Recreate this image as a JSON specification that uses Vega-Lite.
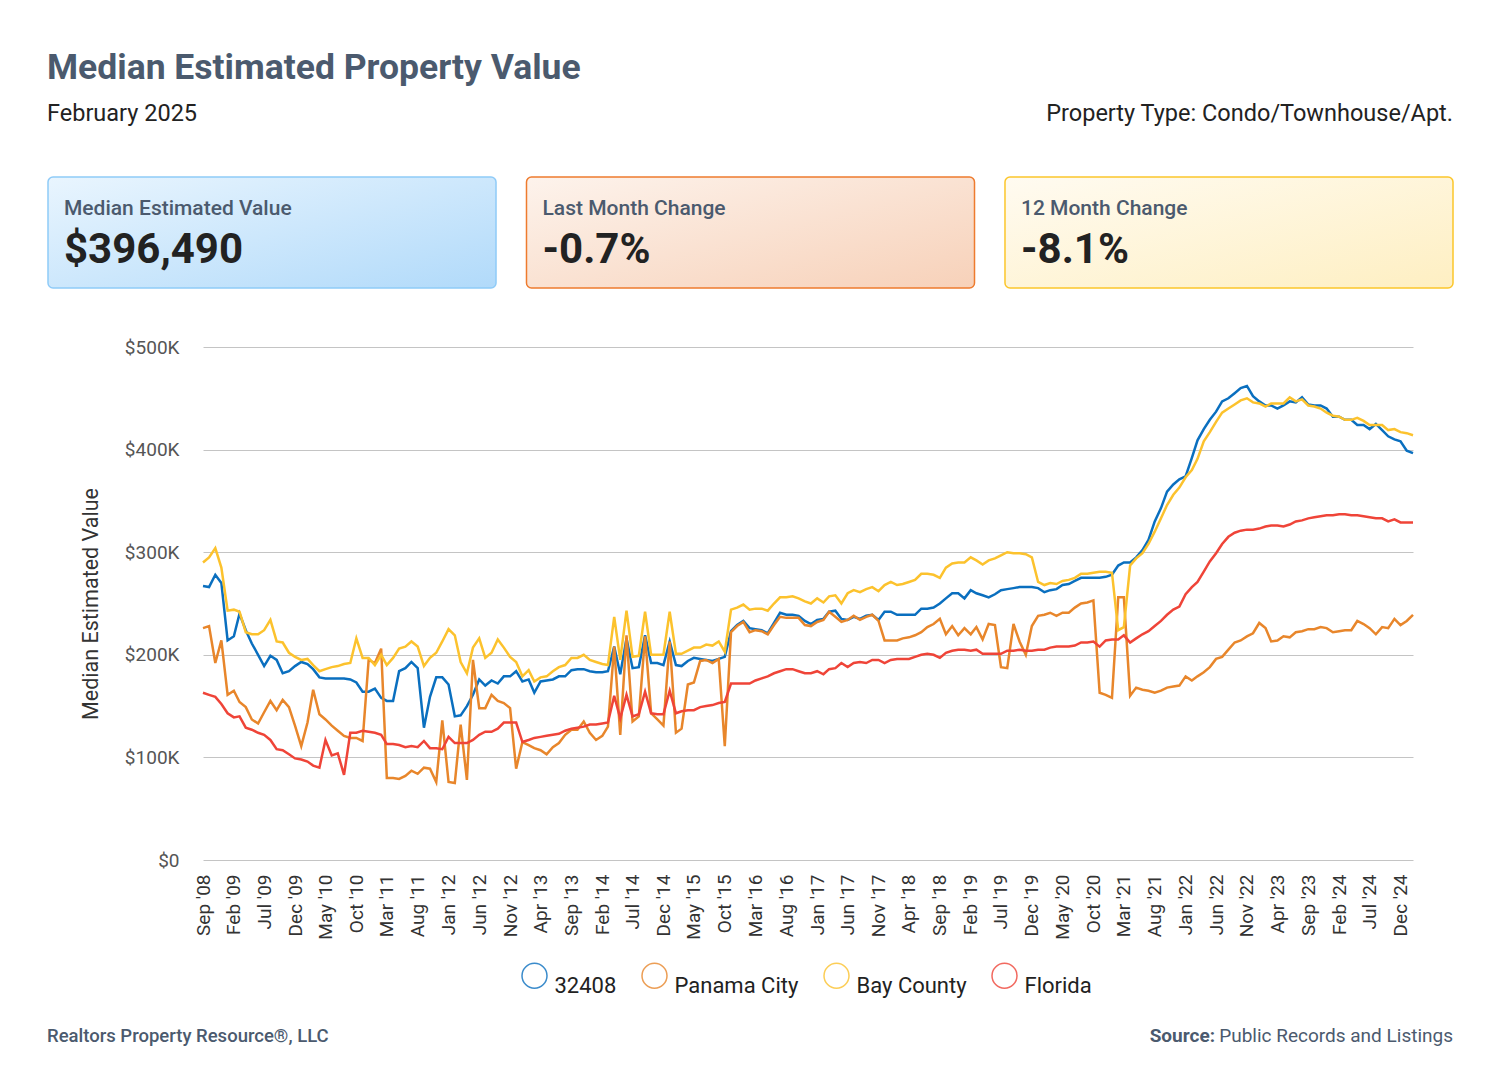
{
"$schema": "https://vega.github.io/schema/vega-lite/v6.json",
"background": "white",
"padding": {"left": 47, "top": 0, "right": 0, "bottom": 0},
"bounds": "flush",
"spacing": 59,
"config": {"view": {"stroke": null}, "font": "Roboto"},
"datasets": {"series": [
{"m":"2008-09","32408":267000,"Panama City":226000,"Bay County":290000,"Florida":163000},
{"m":"2008-10","32408":266000,"Panama City":228000,"Bay County":295000,"Florida":161000},
{"m":"2008-11","32408":278000,"Panama City":192000,"Bay County":304000,"Florida":159000},
{"m":"2008-12","32408":270000,"Panama City":214000,"Bay County":285000,"Florida":152000},
{"m":"2009-01","32408":214000,"Panama City":161000,"Bay County":243000,"Florida":143000},
{"m":"2009-02","32408":218000,"Panama City":165000,"Bay County":244000,"Florida":139000},
{"m":"2009-03","32408":240000,"Panama City":154000,"Bay County":242000,"Florida":140000},
{"m":"2009-04","32408":224000,"Panama City":149000,"Bay County":222000,"Florida":129000},
{"m":"2009-05","32408":211000,"Panama City":137000,"Bay County":220000,"Florida":127000},
{"m":"2009-06","32408":200000,"Panama City":133000,"Bay County":220000,"Florida":124000},
{"m":"2009-07","32408":189000,"Panama City":144000,"Bay County":224000,"Florida":122000},
{"m":"2009-08","32408":199000,"Panama City":155000,"Bay County":234000,"Florida":117000},
{"m":"2009-09","32408":195000,"Panama City":146000,"Bay County":213000,"Florida":108000},
{"m":"2009-10","32408":182000,"Panama City":156000,"Bay County":212000,"Florida":107000},
{"m":"2009-11","32408":184000,"Panama City":149000,"Bay County":202000,"Florida":103000},
{"m":"2009-12","32408":189000,"Panama City":131000,"Bay County":198000,"Florida":99000},
{"m":"2010-01","32408":193000,"Panama City":111000,"Bay County":195000,"Florida":98000},
{"m":"2010-02","32408":191000,"Panama City":134000,"Bay County":196000,"Florida":96000},
{"m":"2010-03","32408":186000,"Panama City":166000,"Bay County":190000,"Florida":92000},
{"m":"2010-04","32408":178000,"Panama City":142000,"Bay County":184000,"Florida":90000},
{"m":"2010-05","32408":177000,"Panama City":137000,"Bay County":186000,"Florida":117000},
{"m":"2010-06","32408":177000,"Panama City":131000,"Bay County":188000,"Florida":102000},
{"m":"2010-07","32408":177000,"Panama City":126000,"Bay County":189000,"Florida":104000},
{"m":"2010-08","32408":177000,"Panama City":121000,"Bay County":191000,"Florida":83000},
{"m":"2010-09","32408":176000,"Panama City":119000,"Bay County":192000,"Florida":124000},
{"m":"2010-10","32408":173000,"Panama City":119000,"Bay County":216000,"Florida":124000},
{"m":"2010-11","32408":164000,"Panama City":116000,"Bay County":197000,"Florida":126000},
{"m":"2010-12","32408":164000,"Panama City":195000,"Bay County":197000,"Florida":125000},
{"m":"2011-01","32408":167000,"Panama City":192000,"Bay County":190000,"Florida":124000},
{"m":"2011-02","32408":158000,"Panama City":206000,"Bay County":200000,"Florida":122000},
{"m":"2011-03","32408":155000,"Panama City":80000,"Bay County":190000,"Florida":113000},
{"m":"2011-04","32408":155000,"Panama City":80000,"Bay County":197000,"Florida":113000},
{"m":"2011-05","32408":184000,"Panama City":79000,"Bay County":206000,"Florida":112000},
{"m":"2011-06","32408":187000,"Panama City":82000,"Bay County":208000,"Florida":110000},
{"m":"2011-07","32408":193000,"Panama City":87000,"Bay County":213000,"Florida":111000},
{"m":"2011-08","32408":187000,"Panama City":84000,"Bay County":208000,"Florida":110000},
{"m":"2011-09","32408":129000,"Panama City":90000,"Bay County":189000,"Florida":116000},
{"m":"2011-10","32408":159000,"Panama City":89000,"Bay County":197000,"Florida":109000},
{"m":"2011-11","32408":178000,"Panama City":76000,"Bay County":202000,"Florida":109000},
{"m":"2011-12","32408":178000,"Panama City":136000,"Bay County":213000,"Florida":108000},
{"m":"2012-01","32408":171000,"Panama City":76000,"Bay County":225000,"Florida":120000},
{"m":"2012-02","32408":140000,"Panama City":75000,"Bay County":219000,"Florida":114000},
{"m":"2012-03","32408":141000,"Panama City":132000,"Bay County":193000,"Florida":114000},
{"m":"2012-04","32408":150000,"Panama City":78000,"Bay County":182000,"Florida":114000},
{"m":"2012-05","32408":161000,"Panama City":195000,"Bay County":207000,"Florida":117000},
{"m":"2012-06","32408":176000,"Panama City":148000,"Bay County":216000,"Florida":122000},
{"m":"2012-07","32408":170000,"Panama City":148000,"Bay County":197000,"Florida":125000},
{"m":"2012-08","32408":175000,"Panama City":161000,"Bay County":202000,"Florida":125000},
{"m":"2012-09","32408":172000,"Panama City":155000,"Bay County":215000,"Florida":128000},
{"m":"2012-10","32408":179000,"Panama City":153000,"Bay County":207000,"Florida":134000},
{"m":"2012-11","32408":179000,"Panama City":148000,"Bay County":198000,"Florida":134000},
{"m":"2012-12","32408":184000,"Panama City":89000,"Bay County":193000,"Florida":134000},
{"m":"2013-01","32408":174000,"Panama City":115000,"Bay County":179000,"Florida":115000},
{"m":"2013-02","32408":176000,"Panama City":112000,"Bay County":185000,"Florida":117000},
{"m":"2013-03","32408":163000,"Panama City":109000,"Bay County":174000,"Florida":119000},
{"m":"2013-04","32408":174000,"Panama City":107000,"Bay County":178000,"Florida":120000},
{"m":"2013-05","32408":175000,"Panama City":103000,"Bay County":179000,"Florida":121000},
{"m":"2013-06","32408":176000,"Panama City":110000,"Bay County":184000,"Florida":122000},
{"m":"2013-07","32408":179000,"Panama City":114000,"Bay County":188000,"Florida":123000},
{"m":"2013-08","32408":179000,"Panama City":122000,"Bay County":190000,"Florida":126000},
{"m":"2013-09","32408":185000,"Panama City":127000,"Bay County":197000,"Florida":128000},
{"m":"2013-10","32408":186000,"Panama City":127000,"Bay County":197000,"Florida":129000},
{"m":"2013-11","32408":186000,"Panama City":135000,"Bay County":200000,"Florida":130000},
{"m":"2013-12","32408":184000,"Panama City":124000,"Bay County":195000,"Florida":132000},
{"m":"2014-01","32408":183000,"Panama City":117000,"Bay County":193000,"Florida":132000},
{"m":"2014-02","32408":183000,"Panama City":121000,"Bay County":191000,"Florida":133000},
{"m":"2014-03","32408":184000,"Panama City":130000,"Bay County":190000,"Florida":134000},
{"m":"2014-04","32408":208000,"Panama City":208000,"Bay County":237000,"Florida":160000},
{"m":"2014-05","32408":181000,"Panama City":122000,"Bay County":195000,"Florida":138000},
{"m":"2014-06","32408":216000,"Panama City":219000,"Bay County":243000,"Florida":161000},
{"m":"2014-07","32408":187000,"Panama City":135000,"Bay County":198000,"Florida":140000},
{"m":"2014-08","32408":188000,"Panama City":140000,"Bay County":199000,"Florida":142000},
{"m":"2014-09","32408":219000,"Panama City":218000,"Bay County":242000,"Florida":164000},
{"m":"2014-10","32408":192000,"Panama City":143000,"Bay County":200000,"Florida":143000},
{"m":"2014-11","32408":192000,"Panama City":137000,"Bay County":200000,"Florida":142000},
{"m":"2014-12","32408":190000,"Panama City":131000,"Bay County":200000,"Florida":142000},
{"m":"2015-01","32408":213000,"Panama City":213000,"Bay County":242000,"Florida":165000},
{"m":"2015-02","32408":190000,"Panama City":124000,"Bay County":201000,"Florida":143000},
{"m":"2015-03","32408":189000,"Panama City":128000,"Bay County":201000,"Florida":145000},
{"m":"2015-04","32408":194000,"Panama City":171000,"Bay County":204000,"Florida":146000},
{"m":"2015-05","32408":197000,"Panama City":173000,"Bay County":207000,"Florida":146000},
{"m":"2015-06","32408":196000,"Panama City":194000,"Bay County":207000,"Florida":149000},
{"m":"2015-07","32408":195000,"Panama City":195000,"Bay County":210000,"Florida":150000},
{"m":"2015-08","32408":194000,"Panama City":192000,"Bay County":209000,"Florida":151000},
{"m":"2015-09","32408":196000,"Panama City":196000,"Bay County":213000,"Florida":153000},
{"m":"2015-10","32408":198000,"Panama City":111000,"Bay County":203000,"Florida":154000},
{"m":"2015-11","32408":223000,"Panama City":222000,"Bay County":244000,"Florida":172000},
{"m":"2015-12","32408":229000,"Panama City":228000,"Bay County":246000,"Florida":172000},
{"m":"2016-01","32408":233000,"Panama City":232000,"Bay County":249000,"Florida":172000},
{"m":"2016-02","32408":226000,"Panama City":222000,"Bay County":244000,"Florida":172000},
{"m":"2016-03","32408":225000,"Panama City":224000,"Bay County":245000,"Florida":175000},
{"m":"2016-04","32408":224000,"Panama City":223000,"Bay County":245000,"Florida":177000},
{"m":"2016-05","32408":221000,"Panama City":220000,"Bay County":243000,"Florida":179000},
{"m":"2016-06","32408":231000,"Panama City":229000,"Bay County":250000,"Florida":182000},
{"m":"2016-07","32408":241000,"Panama City":237000,"Bay County":256000,"Florida":184000},
{"m":"2016-08","32408":239000,"Panama City":236000,"Bay County":256000,"Florida":186000},
{"m":"2016-09","32408":239000,"Panama City":236000,"Bay County":257000,"Florida":186000},
{"m":"2016-10","32408":238000,"Panama City":236000,"Bay County":255000,"Florida":184000},
{"m":"2016-11","32408":233000,"Panama City":229000,"Bay County":252000,"Florida":182000},
{"m":"2016-12","32408":230000,"Panama City":228000,"Bay County":250000,"Florida":182000},
{"m":"2017-01","32408":234000,"Panama City":232000,"Bay County":255000,"Florida":184000},
{"m":"2017-02","32408":235000,"Panama City":234000,"Bay County":251000,"Florida":181000},
{"m":"2017-03","32408":242000,"Panama City":242000,"Bay County":257000,"Florida":186000},
{"m":"2017-04","32408":243000,"Panama City":237000,"Bay County":258000,"Florida":187000},
{"m":"2017-05","32408":235000,"Panama City":232000,"Bay County":250000,"Florida":192000},
{"m":"2017-06","32408":234000,"Panama City":234000,"Bay County":260000,"Florida":188000},
{"m":"2017-07","32408":237000,"Panama City":238000,"Bay County":263000,"Florida":192000},
{"m":"2017-08","32408":235000,"Panama City":234000,"Bay County":261000,"Florida":193000},
{"m":"2017-09","32408":238000,"Panama City":237000,"Bay County":264000,"Florida":192000},
{"m":"2017-10","32408":239000,"Panama City":239000,"Bay County":266000,"Florida":195000},
{"m":"2017-11","32408":234000,"Panama City":233000,"Bay County":262000,"Florida":195000},
{"m":"2017-12","32408":242000,"Panama City":214000,"Bay County":268000,"Florida":192000},
{"m":"2018-01","32408":242000,"Panama City":214000,"Bay County":271000,"Florida":195000},
{"m":"2018-02","32408":239000,"Panama City":214000,"Bay County":268000,"Florida":196000},
{"m":"2018-03","32408":239000,"Panama City":216000,"Bay County":269000,"Florida":196000},
{"m":"2018-04","32408":239000,"Panama City":217000,"Bay County":271000,"Florida":196000},
{"m":"2018-05","32408":239000,"Panama City":219000,"Bay County":273000,"Florida":198000},
{"m":"2018-06","32408":245000,"Panama City":222000,"Bay County":279000,"Florida":200000},
{"m":"2018-07","32408":245000,"Panama City":227000,"Bay County":279000,"Florida":201000},
{"m":"2018-08","32408":246000,"Panama City":230000,"Bay County":278000,"Florida":200000},
{"m":"2018-09","32408":250000,"Panama City":235000,"Bay County":275000,"Florida":197000},
{"m":"2018-10","32408":255000,"Panama City":220000,"Bay County":285000,"Florida":202000},
{"m":"2018-11","32408":260000,"Panama City":228000,"Bay County":289000,"Florida":204000},
{"m":"2018-12","32408":260000,"Panama City":219000,"Bay County":290000,"Florida":205000},
{"m":"2019-01","32408":255000,"Panama City":226000,"Bay County":290000,"Florida":205000},
{"m":"2019-02","32408":263000,"Panama City":220000,"Bay County":295000,"Florida":204000},
{"m":"2019-03","32408":260000,"Panama City":227000,"Bay County":292000,"Florida":205000},
{"m":"2019-04","32408":258000,"Panama City":215000,"Bay County":288000,"Florida":201000},
{"m":"2019-05","32408":256000,"Panama City":230000,"Bay County":292000,"Florida":201000},
{"m":"2019-06","32408":259000,"Panama City":229000,"Bay County":294000,"Florida":201000},
{"m":"2019-07","32408":263000,"Panama City":188000,"Bay County":297000,"Florida":201000},
{"m":"2019-08","32408":264000,"Panama City":187000,"Bay County":300000,"Florida":204000},
{"m":"2019-09","32408":265000,"Panama City":230000,"Bay County":299000,"Florida":204000},
{"m":"2019-10","32408":266000,"Panama City":213000,"Bay County":299000,"Florida":205000},
{"m":"2019-11","32408":266000,"Panama City":200000,"Bay County":298000,"Florida":204000},
{"m":"2019-12","32408":266000,"Panama City":228000,"Bay County":295000,"Florida":204000},
{"m":"2020-01","32408":265000,"Panama City":238000,"Bay County":271000,"Florida":205000},
{"m":"2020-02","32408":261000,"Panama City":239000,"Bay County":268000,"Florida":205000},
{"m":"2020-03","32408":263000,"Panama City":241000,"Bay County":270000,"Florida":207000},
{"m":"2020-04","32408":264000,"Panama City":238000,"Bay County":269000,"Florida":208000},
{"m":"2020-05","32408":268000,"Panama City":241000,"Bay County":272000,"Florida":208000},
{"m":"2020-06","32408":269000,"Panama City":241000,"Bay County":273000,"Florida":208000},
{"m":"2020-07","32408":272000,"Panama City":246000,"Bay County":275000,"Florida":209000},
{"m":"2020-08","32408":275000,"Panama City":250000,"Bay County":279000,"Florida":212000},
{"m":"2020-09","32408":275000,"Panama City":251000,"Bay County":279000,"Florida":212000},
{"m":"2020-10","32408":275000,"Panama City":253000,"Bay County":280000,"Florida":213000},
{"m":"2020-11","32408":275000,"Panama City":163000,"Bay County":281000,"Florida":208000},
{"m":"2020-12","32408":276000,"Panama City":161000,"Bay County":281000,"Florida":214000},
{"m":"2021-01","32408":278000,"Panama City":158000,"Bay County":280000,"Florida":215000},
{"m":"2021-02","32408":287000,"Panama City":256000,"Bay County":224000,"Florida":215000},
{"m":"2021-03","32408":290000,"Panama City":256000,"Bay County":227000,"Florida":219000},
{"m":"2021-04","32408":290000,"Panama City":160000,"Bay County":287000,"Florida":212000},
{"m":"2021-05","32408":295000,"Panama City":168000,"Bay County":294000,"Florida":216000},
{"m":"2021-06","32408":302000,"Panama City":166000,"Bay County":299000,"Florida":220000},
{"m":"2021-07","32408":312000,"Panama City":165000,"Bay County":308000,"Florida":223000},
{"m":"2021-08","32408":330000,"Panama City":163000,"Bay County":320000,"Florida":228000},
{"m":"2021-09","32408":343000,"Panama City":165000,"Bay County":333000,"Florida":233000},
{"m":"2021-10","32408":359000,"Panama City":168000,"Bay County":346000,"Florida":239000},
{"m":"2021-11","32408":366000,"Panama City":169000,"Bay County":356000,"Florida":244000},
{"m":"2021-12","32408":371000,"Panama City":170000,"Bay County":363000,"Florida":247000},
{"m":"2022-01","32408":374000,"Panama City":179000,"Bay County":373000,"Florida":259000},
{"m":"2022-02","32408":392000,"Panama City":175000,"Bay County":380000,"Florida":266000},
{"m":"2022-03","32408":409000,"Panama City":179000,"Bay County":391000,"Florida":271000},
{"m":"2022-04","32408":420000,"Panama City":183000,"Bay County":408000,"Florida":281000},
{"m":"2022-05","32408":429000,"Panama City":188000,"Bay County":417000,"Florida":291000},
{"m":"2022-06","32408":437000,"Panama City":196000,"Bay County":427000,"Florida":299000},
{"m":"2022-07","32408":447000,"Panama City":198000,"Bay County":436000,"Florida":308000},
{"m":"2022-08","32408":450000,"Panama City":205000,"Bay County":440000,"Florida":315000},
{"m":"2022-09","32408":455000,"Panama City":212000,"Bay County":444000,"Florida":319000},
{"m":"2022-10","32408":460000,"Panama City":214000,"Bay County":448000,"Florida":321000},
{"m":"2022-11","32408":462000,"Panama City":218000,"Bay County":450000,"Florida":322000},
{"m":"2022-12","32408":452000,"Panama City":221000,"Bay County":446000,"Florida":322000},
{"m":"2023-01","32408":447000,"Panama City":231000,"Bay County":445000,"Florida":323000},
{"m":"2023-02","32408":443000,"Panama City":226000,"Bay County":442000,"Florida":325000},
{"m":"2023-03","32408":443000,"Panama City":213000,"Bay County":445000,"Florida":326000},
{"m":"2023-04","32408":440000,"Panama City":214000,"Bay County":445000,"Florida":326000},
{"m":"2023-05","32408":443000,"Panama City":218000,"Bay County":445000,"Florida":325000},
{"m":"2023-06","32408":447000,"Panama City":217000,"Bay County":451000,"Florida":327000},
{"m":"2023-07","32408":446000,"Panama City":222000,"Bay County":447000,"Florida":330000},
{"m":"2023-08","32408":451000,"Panama City":223000,"Bay County":449000,"Florida":331000},
{"m":"2023-09","32408":444000,"Panama City":225000,"Bay County":443000,"Florida":333000},
{"m":"2023-10","32408":443000,"Panama City":225000,"Bay County":442000,"Florida":334000},
{"m":"2023-11","32408":443000,"Panama City":227000,"Bay County":440000,"Florida":335000},
{"m":"2023-12","32408":440000,"Panama City":226000,"Bay County":436000,"Florida":336000},
{"m":"2024-01","32408":432000,"Panama City":222000,"Bay County":433000,"Florida":336000},
{"m":"2024-02","32408":432000,"Panama City":223000,"Bay County":432000,"Florida":337000},
{"m":"2024-03","32408":429000,"Panama City":224000,"Bay County":429000,"Florida":337000},
{"m":"2024-04","32408":429000,"Panama City":224000,"Bay County":429000,"Florida":336000},
{"m":"2024-05","32408":424000,"Panama City":233000,"Bay County":431000,"Florida":336000},
{"m":"2024-06","32408":424000,"Panama City":230000,"Bay County":428000,"Florida":335000},
{"m":"2024-07","32408":420000,"Panama City":226000,"Bay County":424000,"Florida":334000},
{"m":"2024-08","32408":425000,"Panama City":220000,"Bay County":424000,"Florida":333000},
{"m":"2024-09","32408":419000,"Panama City":227000,"Bay County":424000,"Florida":333000},
{"m":"2024-10","32408":413000,"Panama City":226000,"Bay County":419000,"Florida":330000},
{"m":"2024-11","32408":410000,"Panama City":235000,"Bay County":420000,"Florida":332000},
{"m":"2024-12","32408":408000,"Panama City":229000,"Bay County":417000,"Florida":329000},
{"m":"2025-01","32408":399000,"Panama City":233000,"Bay County":416000,"Florida":329000},
{"m":"2025-02","32408":396490,"Panama City":239000,"Bay County":414000,"Florida":329000}
]},
"vconcat": [
{
 "width": 1210, "height": 118,
 "layer": [
  {"data": {"values": [{"side": "left", "label": "Median Estimated Property Value"}]},
   "mark": {"type": "text", "align": "left", "baseline": "middle", "dy": 9, "dx": -1, "fontSize": 35.5, "fontWeight": "bold", "color": "#4b5a6e"},
   "encoding": {"x": {"field": "side", "type": "nominal", "scale": {"type": "point", "domain": ["left", "right"], "range": [-155, 1250], "padding": 0}, "axis": null}, "text": {"field": "label"}}},
  {"data": {"values": [{"side": "left", "label": "February 2025"}]},
   "mark": {"type": "text", "align": "left", "baseline": "middle", "dy": 55, "dx": -1, "fontSize": 23.5, "color": "#222222"},
   "encoding": {"x": {"field": "side", "type": "nominal", "axis": null}, "text": {"field": "label"}}},
  {"data": {"values": [{"side": "right", "label": "Property Type: Condo/Townhouse/Apt."}]},
   "mark": {"type": "text", "align": "right", "baseline": "middle", "dy": 55, "fontSize": 23.5, "color": "#222222"},
   "encoding": {"x": {"field": "side", "type": "nominal", "axis": null}, "text": {"field": "label"}}}
 ]
},
{
 "width": 1210, "height": 111,
 "data": {"values": [
  {"card": "Median Estimated Value", "value": "$396,490"},
  {"card": "Last Month Change", "value": "-0.7%"},
  {"card": "12 Month Change", "value": "-8.1%"}
 ]},
 "encoding": {"x": {"field": "card", "type": "nominal", "scale": {"type": "band", "domain": ["Median Estimated Value", "Last Month Change", "12 Month Change"], "range": [-155, 1250], "paddingInner": 0.0637, "paddingOuter": 0}, "axis": null}},
 "layer": [
  {"transform": [{"filter": "datum.card == 'Median Estimated Value'"}],
   "mark": {"type": "rect", "cornerRadius": 5, "stroke": "#8fcbf8", "strokeWidth": 1.5,
     "fill": {"gradient": "linear", "x1": 0, "y1": 0, "x2": 1, "y2": 1, "stops": [{"offset": 0, "color": "#e9f5fe"}, {"offset": 1, "color": "#b1dafa"}]}}},
  {"transform": [{"filter": "datum.card == 'Last Month Change'"}],
   "mark": {"type": "rect", "cornerRadius": 5, "stroke": "#ee7b2e", "strokeWidth": 1.5,
     "fill": {"gradient": "linear", "x1": 0, "y1": 0, "x2": 1, "y2": 1, "stops": [{"offset": 0, "color": "#fdf3ec"}, {"offset": 1, "color": "#f7d1b9"}]}}},
  {"transform": [{"filter": "datum.card == '12 Month Change'"}],
   "mark": {"type": "rect", "cornerRadius": 5, "stroke": "#fcc62b", "strokeWidth": 1.5,
     "fill": {"gradient": "linear", "x1": 0, "y1": 0, "x2": 1, "y2": 1, "stops": [{"offset": 0, "color": "#fffbf1"}, {"offset": 1, "color": "#feefc2"}]}}},
  {"mark": {"type": "text", "align": "left", "baseline": "middle", "dx": 16, "dy": -23.5, "fontSize": 21, "fontWeight": 500, "color": "#4b5a6e"},
   "encoding": {"x": {"field": "card", "type": "nominal", "bandPosition": 0, "axis": null}, "text": {"field": "card"}}},
  {"mark": {"type": "text", "align": "left", "baseline": "middle", "dx": 16, "dy": 17, "fontSize": 42, "fontWeight": "bold", "color": "#222222"},
   "encoding": {"x": {"field": "card", "type": "nominal", "bandPosition": 0, "axis": null}, "text": {"field": "value"}}}
 ]
},
{
 "width": 1210, "height": 513,
 "data": {"name": "series"},
 "transform": [{"fold": ["32408", "Panama City", "Bay County", "Florida"], "as": ["area", "value"]}],
 "mark": {"type": "line", "strokeWidth": 2.5},
 "encoding": {
  "x": {"field": "m", "type": "temporal",
   "scale": {"type": "utc", "nice": false, "domain": [{"year": 2008, "month": 9, "date": 1, "utc": true}, {"year": 2025, "month": 2, "date": 1, "utc": true}]},
   "axis": {"title": null, "grid": false, "domain": false, "ticks": false, "tickSize": 0, "labelAngle": -90, "labelFontSize": 19, "labelColor": "#333333", "labelPadding": 14, "labelFlush": false, "labelOverlap": false,
    "labelExpr": "utcFormat(datum.value, \"%b '%y\")",
    "values": [
     {"year": 2008, "month": 9, "utc": true}, {"year": 2009, "month": 2, "utc": true}, {"year": 2009, "month": 7, "utc": true}, {"year": 2009, "month": 12, "utc": true},
     {"year": 2010, "month": 5, "utc": true}, {"year": 2010, "month": 10, "utc": true}, {"year": 2011, "month": 3, "utc": true}, {"year": 2011, "month": 8, "utc": true},
     {"year": 2012, "month": 1, "utc": true}, {"year": 2012, "month": 6, "utc": true}, {"year": 2012, "month": 11, "utc": true}, {"year": 2013, "month": 4, "utc": true},
     {"year": 2013, "month": 9, "utc": true}, {"year": 2014, "month": 2, "utc": true}, {"year": 2014, "month": 7, "utc": true}, {"year": 2014, "month": 12, "utc": true},
     {"year": 2015, "month": 5, "utc": true}, {"year": 2015, "month": 10, "utc": true}, {"year": 2016, "month": 3, "utc": true}, {"year": 2016, "month": 8, "utc": true},
     {"year": 2017, "month": 1, "utc": true}, {"year": 2017, "month": 6, "utc": true}, {"year": 2017, "month": 11, "utc": true}, {"year": 2018, "month": 4, "utc": true},
     {"year": 2018, "month": 9, "utc": true}, {"year": 2019, "month": 2, "utc": true}, {"year": 2019, "month": 7, "utc": true}, {"year": 2019, "month": 12, "utc": true},
     {"year": 2020, "month": 5, "utc": true}, {"year": 2020, "month": 10, "utc": true}, {"year": 2021, "month": 3, "utc": true}, {"year": 2021, "month": 8, "utc": true},
     {"year": 2022, "month": 1, "utc": true}, {"year": 2022, "month": 6, "utc": true}, {"year": 2022, "month": 11, "utc": true}, {"year": 2023, "month": 4, "utc": true},
     {"year": 2023, "month": 9, "utc": true}, {"year": 2024, "month": 2, "utc": true}, {"year": 2024, "month": 7, "utc": true}, {"year": 2024, "month": 12, "utc": true}
    ]}},
  "y": {"field": "value", "type": "quantitative",
   "scale": {"domain": [0, 500000], "nice": false},
   "axis": {"values": [0, 100000, 200000, 300000, 400000, 500000], "labelExpr": "datum.value == 0 ? '$0' : '$' + (datum.value / 1000) + 'K'",
    "title": "Median Estimated Value", "titleFontSize": 21.5, "titleFontWeight": "normal", "titleColor": "#333333", "titlePadding": 22,
    "labelFontSize": 19, "labelColor": "#555555", "labelPadding": 24, "ticks": false, "tickSize": 0, "domain": false,
    "grid": true, "gridColor": "#c4c4c4", "gridWidth": 1}},
  "color": {"field": "area", "type": "nominal",
   "scale": {"domain": ["32408", "Panama City", "Bay County", "Florida"], "range": ["#0a6fbf", "#e8862b", "#fcc22d", "#ef4438"]},
   "legend": {"title": null, "orient": "none", "legendX": 318, "legendY": 962, "direction": "horizontal",
    "symbolType": "circle", "symbolSize": 625, "symbolStrokeWidth": 1.5, "symbolFillColor": "transparent", "symbolOpacity": 0.8,
    "labelFontSize": 22, "labelColor": "#222222", "labelOffset": 6.5, "columnPadding": 22, "labelBaseline": "top"}}
 }
},
{
 "width": 1210, "height": 100,
 "layer": [
  {"data": {"values": [{"side": "left", "label": "Realtors Property Resource®, LLC"}]},
   "mark": {"type": "text", "align": "left", "baseline": "middle", "dy": 67, "dx": -1, "fontSize": 18.5, "fontWeight": 500, "color": "#4b5a6e"},
   "encoding": {"x": {"field": "side", "type": "nominal", "scale": {"type": "point", "domain": ["left", "right"], "range": [-155, 1250], "padding": 0}, "axis": null}, "text": {"field": "label"}}},
  {"data": {"values": [{"side": "right", "label": "Public Records and Listings"}]},
   "mark": {"type": "text", "align": "right", "baseline": "middle", "dy": 67, "fontSize": 19, "color": "#4b5a6e"},
   "encoding": {"x": {"field": "side", "type": "nominal", "axis": null}, "text": {"field": "label"}}},
  {"data": {"values": [{"side": "right", "label": "Source:"}]},
   "mark": {"type": "text", "align": "right", "baseline": "middle", "dy": 67, "dx": -238, "fontSize": 19, "fontWeight": "bold", "color": "#4b5a6e"},
   "encoding": {"x": {"field": "side", "type": "nominal", "axis": null}, "text": {"field": "label"}}}
 ]
}
]
}
